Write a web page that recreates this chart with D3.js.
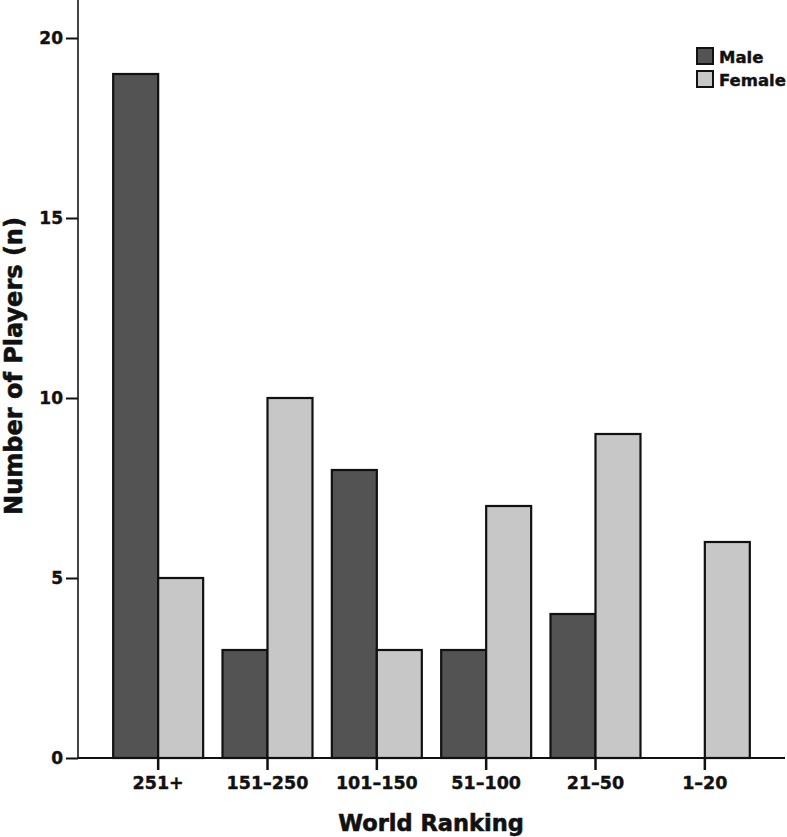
<!DOCTYPE html>
<html>
<head>
<meta charset="utf-8">
<script src="https://cdnjs.cloudflare.com/ajax/libs/d3/7.8.5/d3.min.js"></script>
<style>
  body { margin: 0; background: #fff; }
  text { font-family: "DejaVu Sans", sans-serif; font-weight: bold; fill: #111; stroke: #111; stroke-width: 0.4px; }
</style>
</head>
<body>
<script>
var categories = ["251+", "151-250", "101-150", "51-100", "21-50", "1-20"];
var seriesNames = ["Male", "Female"];
var maleValues = [19, 3, 8, 3, 4, 0];
var femaleValues = [5, 10, 3, 7, 9, 6];
var yTicks = [0, 5, 10, 15, 20];

var colors = {Male: "#535353", Female: "#c7c7c7"};

var width = 787, height = 837;
var axisX = 78, axisY = 758;

var svg = d3.select("body").append("svg")
    .attr("width", width)
    .attr("height", height);

var x = d3.scaleBand()
    .domain(categories)
    .range([103.5, 759.5])
    .paddingInner(0.177)
    .paddingOuter(0.0885);

var xInner = d3.scaleBand()
    .domain(seriesNames)
    .range([0, x.bandwidth()]);

var y = d3.scaleLinear()
    .domain([0, 20])
    .range([axisY, 38]);

var data = categories.map(function(c, i) {
  return {cat: c, Male: maleValues[i], Female: femaleValues[i]};
});

// bars
var groups = svg.selectAll(".grp")
    .data(data)
  .enter().append("g")
    .attr("class", "grp")
    .attr("transform", function(d) { return "translate(" + x(d.cat) + ",0)"; });

groups.selectAll("rect")
    .data(function(d) {
      return seriesNames
        .filter(function(s) { return d[s] > 0; })
        .map(function(s) { return {key: s, value: d[s]}; });
    })
  .enter().append("rect")
    .attr("x", function(d) { return xInner(d.key); })
    .attr("y", function(d) { return y(d.value); })
    .attr("width", xInner.bandwidth())
    .attr("height", function(d) { return axisY - y(d.value); })
    .style("fill", function(d) { return colors[d.key]; })
    .style("stroke", "#111")
    .style("stroke-width", 2.2);

// y axis
var yAxis = d3.axisLeft(y)
    .tickValues(yTicks)
    .tickSize(12)
    .tickPadding(3);

var gy = svg.append("g")
    .attr("transform", "translate(" + axisX + ",0)")
    .call(yAxis);
gy.select(".domain").attr("d", "M0,0V" + axisY).style("stroke", "#444").style("stroke-width", 2);
gy.selectAll(".tick line").style("stroke", "#111").style("stroke-width", 2);
gy.selectAll(".tick text")
    .style("font-size", "17px")
    .style("font-family", "DejaVu Sans, sans-serif")
    .style("font-weight", "bold")
    .attr("fill", "#111");

// x axis
var xAxis = d3.axisBottom(x)
    .tickSize(12)
    .tickPadding(7)
    .tickFormat(function(d) { return d.replace("-", "\u2013"); });

var gx = svg.append("g")
    .attr("transform", "translate(0," + axisY + ")")
    .call(xAxis);
gx.select(".domain").attr("d", "M" + axisX + ",0H785").style("stroke", "#111").style("stroke-width", 2);
gx.selectAll(".tick line").style("stroke", "#111").style("stroke-width", 2.5);
gx.selectAll(".tick text")
    .style("font-size", "17.5px")
    .style("font-family", "DejaVu Sans, sans-serif")
    .style("font-weight", "bold")
    .attr("fill", "#111");

// axis titles
svg.append("text")
    .attr("x", 431)
    .attr("y", 831)
    .style("text-anchor", "middle")
    .style("font-size", "22.5px")
    .style("stroke-width", "0.6px")
    .text("World Ranking");

svg.append("text")
    .attr("transform", "translate(22,366) rotate(-90)")
    .style("text-anchor", "middle")
    .style("font-size", "24px")
    .style("stroke-width", "0.6px")
    .text("Number of Players (n)");

// legend
var legend = svg.selectAll(".legend")
    .data(seriesNames)
  .enter().append("g")
    .attr("class", "legend")
    .attr("transform", function(d, i) { return "translate(697," + (48 + i * 23) + ")"; });

legend.append("rect")
    .attr("width", 16)
    .attr("height", 16)
    .style("fill", function(d) { return colors[d]; })
    .style("stroke", "#111")
    .style("stroke-width", 2);

legend.append("text")
    .attr("x", 22)
    .attr("y", 15)
    .style("font-size", "16.5px")
    .text(function(d) { return d; });
</script>
</body>
</html>
